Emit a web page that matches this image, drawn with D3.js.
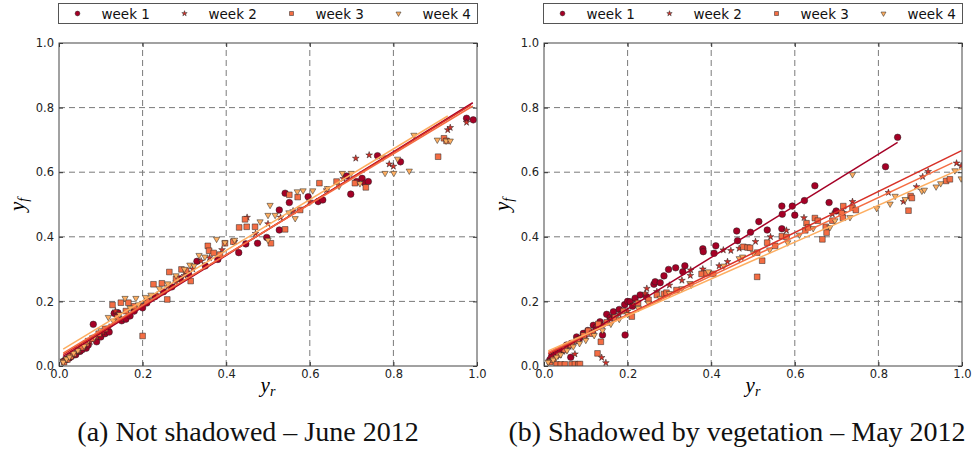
<!DOCTYPE html>
<html>
<head>
<meta charset="utf-8">
<script src="https://cdn.jsdelivr.net/npm/d3@7"></script>
<style>
  body { margin: 0; background: #fff; }
  svg { display: block; }
</style>
</head>
<body>
<svg id="chart" width="976" height="457"></svg>
<script>
var weeks = ["week 1", "week 2", "week 3", "week 4"];
var colors = ["#a50026", "#d73027", "#f46d43", "#fdae61"];
var ticks = [0, 0.2, 0.4, 0.6, 0.8, 1.0];
var gridVals = [0.2, 0.4, 0.6, 0.8];
var captions = ["(a) Not shadowed \u2013 June 2012", "(b) Shadowed by vegetation \u2013 May 2012"];

// left panel: not shadowed, [y_r, y_f]
var leftWeek1 = [[0.012,0.015],[0.018,0.02],[0.025,0.025],[0.03,0.03],[0.04,0.035],[0.05,0.045],[0.055,0.05],[0.065,0.055],[0.07,0.065],[0.082,0.129],[0.09,0.075],[0.1,0.09],[0.11,0.1],[0.12,0.105],[0.132,0.163],[0.141,0.165],[0.15,0.14],[0.16,0.145],[0.17,0.155],[0.18,0.17],[0.2,0.18],[0.21,0.195],[0.23,0.215],[0.25,0.23],[0.27,0.245],[0.29,0.27],[0.31,0.285],[0.33,0.324],[0.35,0.31],[0.38,0.33],[0.43,0.351],[0.447,0.378],[0.475,0.38],[0.497,0.398],[0.527,0.421],[0.527,0.483],[0.541,0.535],[0.551,0.506],[0.596,0.524],[0.62,0.509],[0.631,0.514],[0.688,0.588],[0.698,0.532],[0.712,0.571],[0.725,0.581],[0.732,0.566],[0.74,0.571],[0.762,0.651],[0.817,0.632],[0.975,0.767],[0.991,0.762]];
var leftWeek2 = [[0.01,0.018],[0.02,0.025],[0.03,0.035],[0.045,0.045],[0.06,0.06],[0.075,0.075],[0.09,0.09],[0.105,0.105],[0.12,0.12],[0.135,0.17],[0.15,0.145],[0.165,0.16],[0.18,0.175],[0.195,0.19],[0.215,0.205],[0.235,0.22],[0.26,0.245],[0.28,0.26],[0.3,0.28],[0.32,0.3],[0.34,0.325],[0.36,0.335],[0.39,0.36],[0.42,0.385],[0.45,0.46],[0.47,0.41],[0.5,0.44],[0.53,0.46],[0.56,0.48],[0.6,0.51],[0.64,0.545],[0.68,0.58],[0.71,0.643],[0.742,0.653],[0.79,0.625],[0.8,0.618],[0.93,0.731],[0.936,0.738],[0.975,0.754]];
var leftWeek3 = [[0.012,0.012],[0.02,0.02],[0.028,0.03],[0.035,0.038],[0.045,0.05],[0.055,0.058],[0.065,0.07],[0.08,0.085],[0.095,0.1],[0.11,0.115],[0.128,0.189],[0.148,0.196],[0.166,0.196],[0.14,0.15],[0.16,0.17],[0.18,0.185],[0.2,0.093],[0.21,0.2],[0.226,0.253],[0.246,0.256],[0.259,0.206],[0.264,0.291],[0.28,0.27],[0.293,0.299],[0.304,0.295],[0.315,0.263],[0.356,0.372],[0.359,0.357],[0.37,0.35],[0.385,0.345],[0.397,0.38],[0.417,0.385],[0.431,0.429],[0.445,0.454],[0.449,0.431],[0.469,0.431],[0.507,0.38],[0.541,0.423],[0.551,0.53],[0.571,0.523],[0.577,0.483],[0.623,0.566],[0.664,0.571],[0.708,0.566],[0.734,0.553],[0.907,0.648],[0.921,0.705],[0.927,0.697]];
var leftWeek4 = [[0.01,0.012],[0.018,0.022],[0.025,0.028],[0.035,0.04],[0.045,0.048],[0.06,0.062],[0.07,0.08],[0.085,0.09],[0.1,0.11],[0.118,0.151],[0.13,0.14],[0.145,0.16],[0.158,0.21],[0.17,0.18],[0.184,0.21],[0.19,0.19],[0.207,0.213],[0.22,0.22],[0.24,0.24],[0.26,0.255],[0.28,0.28],[0.3,0.3],[0.313,0.313],[0.323,0.31],[0.335,0.343],[0.349,0.338],[0.377,0.393],[0.397,0.382],[0.42,0.39],[0.481,0.447],[0.5,0.467],[0.5,0.39],[0.505,0.498],[0.517,0.467],[0.55,0.475],[0.565,0.457],[0.57,0.54],[0.584,0.543],[0.607,0.543],[0.642,0.55],[0.67,0.557],[0.678,0.597],[0.699,0.597],[0.72,0.565],[0.775,0.645],[0.78,0.597],[0.801,0.597],[0.81,0.641],[0.838,0.604],[0.849,0.715],[0.905,0.70],[0.926,0.697],[0.936,0.697]];
// fitted lines [x0, y0, x1, y1]
var leftLines = [[0.01,0.03,0.99,0.815],[0.01,0.035,0.985,0.808],[0.01,0.04,0.99,0.805],[0.01,0.052,0.93,0.774]];

// right panel: shadowed by vegetation
var rightWeek1 = [[0.014,0.019],[0.018,0.029],[0.025,0.035],[0.03,0.044],[0.04,0.05],[0.054,0.065],[0.064,0.027],[0.065,0.07],[0.078,0.09],[0.085,0.085],[0.094,0.101],[0.105,0.11],[0.118,0.126],[0.125,0.12],[0.134,0.137],[0.14,0.096],[0.15,0.16],[0.158,0.15],[0.166,0.168],[0.18,0.175],[0.193,0.19],[0.194,0.096],[0.2,0.2],[0.206,0.199],[0.212,0.185],[0.218,0.21],[0.23,0.22],[0.245,0.215],[0.263,0.253],[0.266,0.261],[0.278,0.258],[0.287,0.279],[0.298,0.299],[0.315,0.304],[0.332,0.292],[0.337,0.31],[0.38,0.363],[0.381,0.354],[0.407,0.349],[0.411,0.372],[0.461,0.418],[0.463,0.388],[0.494,0.414],[0.514,0.447],[0.534,0.421],[0.569,0.425],[0.569,0.495],[0.57,0.47],[0.594,0.495],[0.6,0.467],[0.623,0.512],[0.648,0.558],[0.682,0.506],[0.699,0.48],[0.817,0.617],[0.846,0.708]];
var rightWeek2 = [[0.012,0.015],[0.02,0.025],[0.03,0.03],[0.045,0.045],[0.074,0.037],[0.06,0.06],[0.08,0.075],[0.1,0.09],[0.12,0.11],[0.138,0.026],[0.148,0.01],[0.14,0.125],[0.16,0.145],[0.18,0.16],[0.2,0.17],[0.215,0.19],[0.242,0.225],[0.246,0.24],[0.27,0.23],[0.3,0.25],[0.33,0.265],[0.35,0.28],[0.351,0.297],[0.38,0.3],[0.419,0.31],[0.429,0.359],[0.439,0.323],[0.447,0.357],[0.467,0.364],[0.506,0.385],[0.542,0.40],[0.58,0.42],[0.622,0.459],[0.69,0.47],[0.716,0.475],[0.738,0.509],[0.824,0.537],[0.86,0.509],[0.891,0.555],[0.906,0.586],[0.919,0.602],[0.987,0.628],[0.998,0.62]];
var rightWeek3 = [[0.015,0.012],[0.022,0.02],[0.03,0.005],[0.04,0.005],[0.05,0.005],[0.066,0.005],[0.074,0.006],[0.082,0.005],[0.086,0.006],[0.035,0.035],[0.05,0.05],[0.065,0.065],[0.08,0.08],[0.095,0.095],[0.106,0.109],[0.115,0.1],[0.128,0.039],[0.13,0.13],[0.136,0.075],[0.15,0.135],[0.17,0.15],[0.19,0.17],[0.21,0.153],[0.225,0.195],[0.25,0.205],[0.27,0.22],[0.287,0.223],[0.293,0.227],[0.317,0.235],[0.377,0.285],[0.389,0.287],[0.405,0.285],[0.477,0.369],[0.487,0.367],[0.493,0.366],[0.51,0.351],[0.51,0.276],[0.522,0.326],[0.534,0.382],[0.553,0.372],[0.569,0.402],[0.58,0.40],[0.625,0.42],[0.628,0.442],[0.632,0.429],[0.648,0.458],[0.655,0.45],[0.666,0.392],[0.674,0.431],[0.676,0.413],[0.69,0.45],[0.712,0.473],[0.715,0.459],[0.716,0.495],[0.738,0.49],[0.746,0.483],[0.872,0.481],[0.877,0.526],[0.88,0.52],[0.962,0.573],[0.971,0.578]];
var rightWeek4 = [[0.01,0.012],[0.022,0.019],[0.03,0.028],[0.04,0.035],[0.055,0.048],[0.07,0.06],[0.085,0.07],[0.1,0.08],[0.12,0.095],[0.14,0.11],[0.16,0.13],[0.18,0.145],[0.2,0.16],[0.226,0.179],[0.25,0.195],[0.278,0.21],[0.3,0.225],[0.33,0.24],[0.349,0.256],[0.352,0.251],[0.393,0.292],[0.43,0.31],[0.467,0.333],[0.475,0.338],[0.501,0.349],[0.54,0.36],[0.583,0.382],[0.611,0.406],[0.644,0.426],[0.684,0.429],[0.696,0.45],[0.732,0.46],[0.738,0.593],[0.796,0.488],[0.828,0.502],[0.84,0.526],[0.864,0.516],[0.904,0.542],[0.91,0.545],[0.938,0.555],[0.949,0.565],[0.983,0.605],[0.998,0.58]];
var rightLines = [[0.01,0.025,0.846,0.692],[0.01,0.038,0.999,0.667],[0.01,0.042,0.977,0.629],[0.01,0.047,1.0,0.612]];

var svg = d3.select("#chart");
svg.append("rect").attr("width", 976).attr("height", 457).attr("fill", "#fff");

var symbols = [
  d3.symbol().type(d3.symbolCircle).size(34),
  d3.symbol().type(d3.symbolStar).size(14),
  d3.symbol().type(d3.symbolSquare).size(32),
  d3.symbol().type(d3.symbolTriangle).size(17)
];
var legendSymbols = [
  d3.symbol().type(d3.symbolCircle).size(18),
  d3.symbol().type(d3.symbolStar).size(9),
  d3.symbol().type(d3.symbolSquare).size(16),
  d3.symbol().type(d3.symbolTriangle).size(11)
];
// triangles point down
var rotations = [0, 0, 0, 180];

function drawLegend(ox) {
  var g = svg.append("g").attr("transform", "translate(" + ox + ",0)");
  g.append("rect")
    .attr("x", 0.5).attr("y", 3.5).attr("width", 419).attr("height", 20)
    .attr("fill", "#fff").attr("stroke", "#555").attr("stroke-width", 1);
  weeks.forEach(function (w, i) {
    var sx = 19.5 + i * 107;
    g.append("path")
      .attr("d", legendSymbols[i]())
      .attr("transform", "translate(" + sx + ",13.5) rotate(" + rotations[i] + ")")
      .attr("fill", colors[i]).attr("stroke", "#222").attr("stroke-width", 0.5);
    g.append("text")
      .attr("x", sx + 24).attr("y", 18.5)
      .attr("font-family", "DejaVu Sans").attr("font-size", 13.5)
      .attr("fill", "#111")
      .text(w);
  });
}

function drawPanel(ox, series, lines, caption, capX) {
  var x = d3.scaleLinear().domain([0, 1]).range([ox, ox + 418]);
  var y = d3.scaleLinear().domain([0, 1]).range([366, 43]);
  var g = svg.append("g");

  // grid
  g.selectAll(".gx").data(gridVals).enter().append("line")
    .attr("x1", function (d) { return x(d); }).attr("x2", function (d) { return x(d); })
    .attr("y1", y(0)).attr("y2", y(1))
    .attr("stroke", "#7a7a7a").attr("stroke-width", 1).attr("stroke-dasharray", "6,4");
  g.selectAll(".gy").data(gridVals).enter().append("line")
    .attr("x1", x(0)).attr("x2", x(1))
    .attr("y1", function (d) { return y(d); }).attr("y2", function (d) { return y(d); })
    .attr("stroke", "#7a7a7a").attr("stroke-width", 1).attr("stroke-dasharray", "6,4");

  // points
  var clip = "clip" + ox;
  svg.append("clipPath").attr("id", clip).append("rect")
    .attr("x", x(0)).attr("y", y(1)).attr("width", 418).attr("height", 323);
  var pg = g.append("g").attr("clip-path", "url(#" + clip + ")");
  series.forEach(function (pts, i) {
    pg.selectAll(null).data(pts).enter().append("path")
      .attr("d", symbols[i]())
      .attr("transform", function (d) {
        return "translate(" + x(d[0]) + "," + y(d[1]) + ") rotate(" + rotations[i] + ")";
      })
      .attr("fill", colors[i]).attr("stroke", "#222").attr("stroke-width", 0.5);
  });

  // fitted lines
  pg.selectAll(null).data(lines).enter().append("line")
    .attr("x1", function (d) { return x(d[0]); })
    .attr("y1", function (d) { return y(d[1]); })
    .attr("x2", function (d) { return x(d[2]); })
    .attr("y2", function (d) { return y(d[3]); })
    .attr("stroke", function (d, i) { return colors[i]; })
    .attr("stroke-width", 1.5);

  // axes, ticks inward
  var fmt = d3.format(".1f");
  var ax = [
    g.append("g").attr("transform", "translate(0," + y(0) + ")")
      .call(d3.axisBottom(x).tickValues(ticks).tickFormat(fmt).tickSize(-4).tickPadding(4)),
    g.append("g").attr("transform", "translate(" + x(0) + ",0)")
      .call(d3.axisLeft(y).tickValues(ticks).tickFormat(fmt).tickSize(-4).tickPadding(5)),
    g.append("g").attr("transform", "translate(0," + y(1) + ")")
      .call(d3.axisTop(x).tickValues(ticks).tickFormat("").tickSize(-4)),
    g.append("g").attr("transform", "translate(" + x(1) + ",0)")
      .call(d3.axisRight(y).tickValues(ticks).tickFormat("").tickSize(-4))
  ];
  ax.forEach(function (a) {
    a.select(".domain").remove();
    a.selectAll("line").attr("stroke", "#333");
    a.selectAll("text").attr("font-family", "DejaVu Sans").attr("font-size", 11.5).attr("fill", "#222");
  });

  g.append("rect")
    .attr("x", x(0)).attr("y", y(1)).attr("width", 418).attr("height", 323)
    .attr("fill", "none").attr("stroke", "#444").attr("stroke-width", 1);

  // axis labels
  var xl = g.append("text")
    .attr("x", x(0.5)).attr("y", 392)
    .attr("text-anchor", "middle")
    .attr("font-family", "Liberation Serif").attr("font-style", "italic").attr("font-size", 21);
  xl.append("tspan").text("y");
  xl.append("tspan").attr("font-size", 14).attr("dy", 4).text("r");

  var yl = g.append("text")
    .attr("transform", "translate(" + (ox - 35) + "," + y(0.5) + ") rotate(-90)")
    .attr("text-anchor", "middle")
    .attr("font-family", "Liberation Serif").attr("font-style", "italic").attr("font-size", 21);
  yl.append("tspan").text("y");
  yl.append("tspan").attr("font-size", 14).attr("dy", 4).text("f");

  svg.append("text")
    .attr("x", capX).attr("y", 441)
    .attr("text-anchor", "middle")
    .attr("font-family", "Liberation Serif").attr("font-size", 28)
    .attr("fill", "#111")
    .text(caption);
}

drawLegend(58);
drawLegend(543);
drawPanel(59, [leftWeek1, leftWeek2, leftWeek3, leftWeek4], leftLines, captions[0], 248);
drawPanel(544, [rightWeek1, rightWeek2, rightWeek3, rightWeek4], rightLines, captions[1], 737);
</script>
</body>
</html>
